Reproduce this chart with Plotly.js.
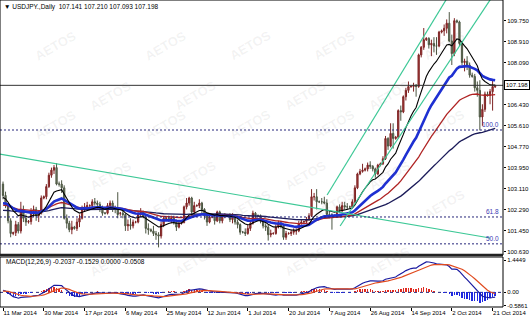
<!DOCTYPE html>
<html><head><meta charset="utf-8">
<script src="https://cdn.plot.ly/plotly-3.0.1.min.js"></script>
<style>html,body{margin:0;padding:0;background:#fff;} #chart{width:530px;height:321px;}</style>
</head><body><div id="chart"></div>
<script>
// ---------------- data ----------------
const symbolTitle = '\u25BC USDJPY.,Daily  107.141 107.210 107.093 107.198';
const dateTickIdx = [0,16,32,48,64,80,96,112,128,144,160,176,192];
const dateTickText = ['11 Mar 2014','30 Mar 2014','17 Apr 2014','6 May 2014','25 May 2014','12 Jun 2014','1 Jul 2014','20 Jul 2014','7 Aug 2014','26 Aug 2014','14 Sep 2014','2 Oct 2014','21 Oct 2014'];
const priceTicks = [109.750,108.910,108.090,106.430,105.610,104.770,103.950,103.110,102.290,101.450,100.630];
const lastPrice = 107.198;

const openP = [
103.30,102.85,102.45,101.85,101.35,101.38,101.70,101.45,102.30,101.95,
101.80,101.82,102.25,102.30,102.05,102.15,102.75,102.80,103.20,103.65,
103.85,103.95,103.30,103.30,103.15,101.95,101.75,101.50,101.60,101.55,
101.80,101.95,102.35,102.40,102.45,102.45,102.60,102.55,102.50,102.30,
102.15,102.15,102.45,102.55,102.30,102.30,102.15,102.15,102.10,101.65,
101.70,101.65,101.80,101.80,102.10,102.20,102.00,101.55,101.50,101.45,
101.35,101.30,101.25,101.70,101.95,101.95,101.90,101.95,101.80,101.60,
101.75,101.78,102.40,102.55,102.75,102.20,102.45,102.45,102.55,102.30,
102.05,101.80,102.00,102.00,101.85,102.20,101.85,102.05,102.05,102.05,
101.90,102.00,101.80,101.70,101.40,101.40,101.35,101.55,101.75,102.15,
102.05,102.05,101.85,101.65,101.60,101.30,101.35,101.35,101.60,101.75,
101.65,101.20,101.35,101.35,101.40,101.45,101.45,101.75,101.80,101.82,
101.90,102.05,102.80,102.80,102.60,102.60,102.60,102.55,102.10,102.10,
102.05,102.05,102.40,102.25,102.45,102.40,102.40,102.40,102.60,103.15,
103.70,103.80,103.85,103.90,104.05,104.00,103.90,103.70,104.05,104.10,
104.30,105.10,104.80,105.30,105.10,105.15,106.20,106.15,106.75,107.00,
107.15,107.15,107.20,107.15,108.40,108.70,109.00,109.05,108.80,108.85,
108.75,108.75,109.30,109.35,109.45,109.65,108.95,108.45,109.75,109.70,
108.85,108.10,108.15,108.00,107.60,107.55,107.10,107.00,105.95,106.25,
106.85,106.80,106.95,107.141];
const highP = [
103.40,103.00,102.55,101.95,101.42,101.85,101.80,102.60,102.45,102.10,
101.88,102.35,102.45,102.40,102.25,102.85,102.85,103.30,103.75,103.95,
104.05,104.13,103.40,103.45,103.25,102.10,101.85,101.85,101.65,101.95,
102.10,102.45,102.55,102.60,102.50,102.70,102.75,102.65,102.60,102.45,
102.20,102.55,102.65,102.65,102.45,102.98,102.20,102.25,102.15,101.90,
101.95,101.90,101.85,102.20,102.35,102.25,102.05,101.75,101.55,101.65,
101.45,101.40,101.80,102.00,102.00,102.05,102.05,102.05,101.90,101.85,
101.80,102.45,102.75,102.80,102.80,102.60,102.50,102.70,102.60,102.35,
102.10,102.10,102.05,102.05,102.25,102.25,102.10,102.15,102.10,102.15,
102.15,102.05,101.90,101.75,101.45,101.55,101.70,101.80,102.25,102.20,
102.10,102.10,101.95,101.75,101.70,101.50,101.40,101.70,101.85,101.85,
101.70,101.45,101.40,101.50,101.55,101.55,101.85,101.90,101.85,102.00,
102.15,103.10,102.95,103.10,102.65,102.75,102.80,102.70,102.25,102.15,
102.10,102.45,102.50,102.60,102.60,102.55,102.45,102.70,103.25,103.75,
103.90,104.10,103.95,104.15,104.20,104.05,103.95,104.10,104.15,104.40,
105.20,105.15,105.70,105.70,105.20,106.25,106.40,106.80,107.10,107.35,
107.20,107.30,107.25,108.45,108.75,109.46,109.10,109.10,109.00,109.10,
109.10,109.35,109.40,109.60,109.80,110.09,109.20,109.85,109.80,109.75,
108.95,108.25,108.35,108.10,107.70,107.65,107.35,107.40,106.45,106.95,
106.95,107.05,107.40,107.210];
const lowP = [
102.70,102.35,101.75,101.20,101.28,101.25,101.35,101.35,101.80,101.65,
101.74,101.70,102.00,101.85,101.80,102.10,102.70,102.70,103.15,103.55,
103.70,103.25,103.20,102.95,101.90,101.55,101.40,101.32,101.50,101.45,
101.60,101.90,102.20,102.30,102.40,102.35,102.45,102.30,102.20,102.05,
102.10,102.10,102.35,102.20,102.15,101.95,102.05,101.95,101.45,101.45,
101.50,101.55,101.75,101.75,102.00,101.95,101.35,101.30,101.40,101.25,
101.10,100.80,101.15,101.60,101.90,101.80,101.75,101.70,101.45,101.55,
101.70,101.75,102.30,102.45,102.05,102.10,102.40,102.35,102.15,101.90,
101.65,101.75,101.95,101.70,101.80,101.75,101.75,101.95,102.00,101.80,
101.75,101.70,101.55,101.30,101.35,101.25,101.30,101.45,101.70,101.95,
102.00,101.75,101.55,101.45,101.07,101.20,101.30,101.30,101.55,101.55,
101.10,101.10,101.30,101.25,101.30,101.30,101.40,101.70,101.75,101.75,
101.85,102.00,102.65,102.30,102.55,102.50,102.50,102.05,101.95,101.50,
102.00,102.00,102.15,102.20,102.30,102.30,102.35,102.35,102.55,103.10,
103.65,103.75,103.80,103.80,103.90,103.80,103.55,103.65,104.00,104.05,
104.25,104.65,104.75,104.70,105.05,105.10,105.80,106.10,106.60,106.90,
107.10,106.95,106.75,107.10,108.30,108.60,108.95,108.65,108.35,108.50,
108.40,108.70,109.25,109.15,109.25,108.90,108.00,108.35,109.65,108.75,
108.00,107.75,107.80,107.50,107.50,106.95,106.75,105.42,105.60,106.15,
106.75,106.45,106.20,107.093];
const closeP = [
102.85,102.45,101.85,101.35,101.38,101.70,101.45,102.30,101.95,101.80,
101.82,102.25,102.30,102.05,102.15,102.75,102.80,103.20,103.65,103.85,
103.95,103.30,103.30,103.15,101.95,101.75,101.50,101.60,101.55,101.80,
101.95,102.35,102.40,102.45,102.45,102.60,102.55,102.50,102.30,102.15,
102.15,102.45,102.55,102.30,102.30,102.10,102.15,102.10,101.65,101.70,
101.65,101.80,101.80,102.10,102.20,102.00,101.55,101.50,101.45,101.35,
101.30,101.25,101.70,101.95,101.95,101.90,101.95,101.80,101.60,101.75,
101.78,102.40,102.55,102.75,102.20,102.45,102.45,102.55,102.30,102.05,
101.80,102.00,102.00,101.85,102.20,101.85,102.05,102.05,102.05,101.90,
102.00,101.80,101.70,101.40,101.40,101.35,101.55,101.75,102.15,102.05,
102.05,101.85,101.65,101.60,101.30,101.35,101.35,101.60,101.75,101.65,
101.20,101.35,101.35,101.40,101.45,101.45,101.75,101.80,101.82,101.90,
102.05,102.80,102.80,102.60,102.60,102.60,102.55,102.10,102.10,102.05,
102.05,102.40,102.25,102.45,102.40,102.40,102.40,102.60,103.15,103.70,
103.80,103.85,103.90,104.05,104.00,103.90,103.70,104.05,104.10,104.30,
105.10,104.80,105.30,105.10,105.15,106.20,106.15,106.75,107.00,107.15,
107.15,107.20,107.15,108.40,108.70,109.00,109.05,108.80,108.85,108.75,
108.75,109.30,109.35,109.45,109.65,108.95,108.45,109.75,109.70,108.85,
108.10,108.15,108.00,107.60,107.55,107.10,107.00,105.95,106.25,106.85,
106.80,106.95,107.15,107.198];

// moving averages (EMA of close), seeded with the value before the first bar
const maPeriods = [100, 50, 28, 12];
const maSeeds   = [102.25, 102.45, 102.52, 102.75];
const maColors  = ['#1c1c5a', '#b02424', '#1e30d2', '#000000'];
const maWidths  = [1.3, 1.3, 2.6, 1.1];

// MACD(12,26,9)
const macdParams = [12, 26, 9];
const macdSeeds  = [102.80, 102.70, 0.05];
const macdTicks = [1.4449, 0, -0.5861];
const macdTickText = ['1.4449', '0.00', '-0.5861'];
const macdLabel = 'MACD(12,26,9) -0.2037 -0.1529 0.0000 -0.0508';

// Fibonacci retracement anchors and levels
const fibHigh = 105.435, fibLow = 96.445;
const fibLevels = [100.0, 61.8, 50.0];

// trend lines (bar index, price)
const trendDownX = [-1.2, 191],  trendDownY = [104.48, 101.17];
const chanUpX = [127.1, 175],    chanUpY = [102.87, 110.78];
const chanLoX = [132.2, 193],    chanLoY = [101.645, 110.87];

// ---------------- build ----------------
const idx = closeP.map((_, i) => i);
function ema(src, period, seed) {
  const a = 2 / (period + 1); let prev = seed; const out = [];
  for (const v of src) { prev = prev + a * (v - prev); out.push(prev); }
  return out;
}
const FONT = 'Liberation Sans, Arial, sans-serif';
const FS = 6;
const traces = [];

traces.push({
  type: 'candlestick', x: idx, open: openP, high: highP, low: lowP, close: closeP,
  xaxis: 'x', yaxis: 'y', whiskerwidth: 0, hoverinfo: 'skip',
  increasing: { line: { color: '#7e2424', width: 1 }, fillcolor: '#a83a3a' },
  decreasing: { line: { color: '#4c5642', width: 1 }, fillcolor: '#76806a' },
  showlegend: false
});

maPeriods.forEach((p, k) => {
  traces.push({ type: 'scatter', mode: 'lines', x: idx, y: ema(closeP, p, maSeeds[k]),
    line: { color: maColors[k], width: maWidths[k] }, hoverinfo: 'skip', showlegend: false });
});

const lineGreen = { color: '#3cc896', width: 1.2 };
[[trendDownX, trendDownY], [chanUpX, chanUpY], [chanLoX, chanLoY]].forEach(([xs, ys]) => {
  traces.push({ type: 'scatter', mode: 'lines', x: xs, y: ys, line: lineGreen, hoverinfo: 'skip', showlegend: false });
});

const e12 = ema(closeP, macdParams[0], macdSeeds[0]);
const e26 = ema(closeP, macdParams[1], macdSeeds[1]);
const macd = e12.map((v, i) => v - e26[i]);
const signal = ema(macd, macdParams[2], macdSeeds[2]);
const hist = macd.map((v, i) => v - signal[i]);

traces.push({ type: 'bar', x: idx, y: hist, xaxis: 'x', yaxis: 'y2', width: 0.55,
  marker: { color: hist.map(v => v >= 0 ? '#e0281e' : '#1e28e0'), line: { width: 0 } },
  hoverinfo: 'skip', showlegend: false });
traces.push({ type: 'scatter', mode: 'lines', x: idx, y: macd, xaxis: 'x', yaxis: 'y2',
  line: { color: '#1a1aa0', width: 1.2 }, hoverinfo: 'skip', showlegend: false });
traces.push({ type: 'scatter', mode: 'lines', x: idx, y: signal, xaxis: 'x', yaxis: 'y2',
  line: { color: '#e04a1e', width: 1.2 }, hoverinfo: 'skip', showlegend: false });

const H = 307;            // plot area height (px)
const mainBot = 1 - 255 / H;
const macdTop = (H - 257) / H;

const shapes = [];
fibLevels.forEach(l => {
  const yv = fibLow + (fibHigh - fibLow) * l / 100;
  shapes.push({ type: 'line', xref: 'paper', x0: 0, x1: 1, yref: 'y', y0: yv, y1: yv,
    line: { color: '#26267a', width: 1, dash: '2px,2px' } });
});
shapes.push({ type: 'line', xref: 'paper', x0: 0, x1: 1, yref: 'y', y0: lastPrice, y1: lastPrice,
  line: { color: '#333333', width: 1 } });
shapes.push({ type: 'line', xref: 'paper', x0: 0, x1: 1, yref: 'y2', y0: 0, y1: 0,
  line: { color: '#26267a', width: 1, dash: 'dot' }, layer: 'below' });
shapes.push({ type: 'rect', xref: 'paper', yref: 'paper', x0: 0, x1: 1, y0: mainBot, y1: 1,
  line: { color: '#000', width: 1 } });
shapes.push({ type: 'line', xref: 'paper', yref: 'paper', x0: 0, x1: 1, y0: mainBot, y1: mainBot,
  line: { color: '#222', width: 2.5 } });
shapes.push({ type: 'rect', xref: 'paper', yref: 'paper', x0: 0, x1: 1, y0: 0, y1: macdTop,
  line: { color: '#000', width: 1 } });

const annotations = [];
// watermark lattice
const wm = [[30,25],[140,25],[250,25],[360,25],[470,25],[85,75],[195,75],[305,75],[415,75],
  [30,125],[140,125],[250,125],[360,125],[470,125],[85,175],[195,175],[305,175],[415,175],
  [30,225],[140,225],[250,225],[360,225],[470,225],[85,282],[195,282],[305,282],[415,282]];
wm.forEach(([px, py]) => annotations.push({ xref: 'paper', yref: 'paper', x: px / 503, y: 1 - py / H,
  text: '<b>AETOS</b>', showarrow: false, textangle: -30,
  font: { family: FONT, size: 13, color: 'rgba(120,120,120,0.09)' } }));

annotations.push({ xref: 'paper', yref: 'paper', x: 0.004, y: 1 - 7 / H, xanchor: 'left', yanchor: 'middle',
  text: symbolTitle, showarrow: false, font: { family: FONT, size: 6.5, color: '#000' } });
annotations.push({ xref: 'paper', yref: 'paper', x: 0.008, y: 1 - 262 / H, xanchor: 'left', yanchor: 'middle',
  text: macdLabel, showarrow: false, font: { family: FONT, size: 6.5, color: '#000' } });
annotations.push({ xref: 'paper', yref: 'y', x: 1, y: lastPrice, xanchor: 'left', yanchor: 'middle', xshift: 1,
  text: lastPrice.toFixed(3), showarrow: false, bgcolor: '#fff', bordercolor: '#000', borderwidth: 1, borderpad: 1,
  font: { family: FONT, size: FS, color: '#000' } });
fibLevels.forEach(l => {
  const yv = fibLow + (fibHigh - fibLow) * l / 100;
  annotations.push({ xref: 'paper', yref: 'y', x: 1, y: yv, xanchor: 'right', yanchor: 'bottom', xshift: -2,
    text: l.toFixed(1), showarrow: false, font: { family: FONT, size: 6.5, color: '#3a3ab4' } });
});

const layout = {
  width: 530, height: 321, margin: { l: 0, r: 27, t: 0, b: 14 },
  paper_bgcolor: '#fff', plot_bgcolor: '#fff', showlegend: false, bargap: 0,
  font: { family: FONT, size: FS, color: '#000' },
  xaxis: { anchor: 'y2', range: [-1.176, 196.08], showgrid: false, zeroline: false,
    tickvals: dateTickIdx, ticktext: dateTickText, ticks: 'outside', ticklen: 3, tickcolor: '#000',
    tickangle: 0, ticklabelposition: 'outside right', ticklabeloverflow: 'allow',
    tickfont: { family: FONT, size: FS },
    rangeslider: { visible: false }, fixedrange: true, showline: false },
  yaxis: { domain: [mainBot, 1], range: [100.50, 110.567], side: 'right', anchor: 'x',
    tickvals: priceTicks, ticktext: priceTicks.map(v => v.toFixed(3)), ticks: 'outside', ticklen: 2,
    ticklabelstandoff: 0,
    tickcolor: '#000', showgrid: false, zeroline: false, fixedrange: true, tickfont: { family: FONT, size: FS } },
  yaxis2: { domain: [0, macdTop], range: [-0.653, 1.579], side: 'right', anchor: 'x',
    tickvals: macdTicks, ticktext: macdTickText, ticks: 'outside', ticklen: 2, ticklabelstandoff: 0,
    tickcolor: '#000', showgrid: false, zeroline: false, fixedrange: true, tickfont: { family: FONT, size: FS } },
  shapes: shapes, annotations: annotations
};

Plotly.newPlot('chart', traces, layout, { staticPlot: true, displayModeBar: false });
</script>
</body></html>
